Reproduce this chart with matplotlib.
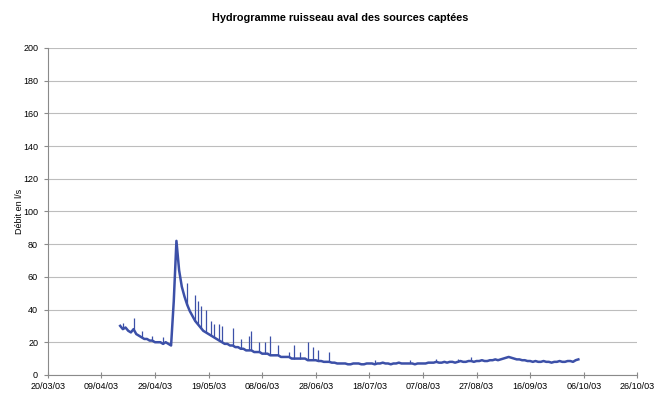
import numpy as np
import pandas as pd
import matplotlib
matplotlib.use('Agg')
import matplotlib.pyplot as plt
import matplotlib.dates as mdates

plt.rcParams['font.family'] = ['Liberation Sans', 'DejaVu Sans']

#daily flow (l/s), 16/04/03 -> 04/10/03
debut = '2003-04-16'
debit_avr = [30, 28, 29, 27, 26, 28, 25, 24, 23, 22, 22, 21, 21, 20, 20]
debit_mai = [20, 19, 20, 19, 18, 45, 82, 64, 54, 48, 43, 39, 36, 33, 31, 29,
             27, 26, 25, 24, 23, 22, 21, 20, 19, 19, 18, 18, 17, 17, 16]
debit_juin = [16, 15, 15, 15, 14, 14, 14, 13, 13, 13, 12, 12, 12, 12, 11,
              11, 11, 11, 10, 10, 10, 10, 10, 10, 9, 9, 9, 9, 8.5, 8.5]
debit_juil = [8, 8, 8, 7.5, 7.5, 7, 7, 7, 7, 6.5, 6.5, 7, 7, 7, 6.5, 6.5,
              7, 7, 7, 6.5, 7, 7, 7.5, 7, 7, 6.5, 7, 7, 7.5, 7, 7]
debit_aout = [7, 7, 7, 6.5, 7, 7, 7, 7, 7.5, 7.5, 7.5, 8, 7.5, 7.5, 8, 7.5,
              8, 8, 7.5, 8, 8.5, 8, 8, 8.5, 8.5, 8, 8.5, 8.5, 9, 8.5, 8.5]
debit_sept = [9, 9, 9.5, 9, 9.5, 10, 10.5, 11, 10.5, 10, 9.5, 9.5, 9, 9,
              8.5, 8.5, 8, 8.5, 8, 8, 8.5, 8, 8, 7.5, 8, 8, 8.5, 8, 8, 8.5]
debit_oct = [8.5, 8, 9, 9.5]

#short peaks seen on the trace
pic_dates = ['2003-04-17', '2003-04-21', '2003-04-24', '2003-04-28', '2003-05-02',
             '2003-05-11', '2003-05-14', '2003-05-15', '2003-05-16', '2003-05-18',
             '2003-05-20', '2003-05-21', '2003-05-23', '2003-05-24', '2003-05-28',
             '2003-05-31', '2003-06-03', '2003-06-04', '2003-06-07', '2003-06-09',
             '2003-06-11', '2003-06-14', '2003-06-18', '2003-06-20', '2003-06-22',
             '2003-06-25', '2003-06-27', '2003-06-29', '2003-07-03', '2003-07-20',
             '2003-08-02', '2003-08-12', '2003-08-20', '2003-08-25']
pic_valeurs = [32, 35, 27, 24, 23,
               56, 49, 45, 42, 40,
               33, 31, 31, 30, 29,
               22, 24, 27, 20, 20,
               24, 18, 14, 18, 14,
               20, 17, 15, 14, 9,
               9, 10, 10, 11]

x_debut, x_fin = '2003-03-20', '2003-10-26'

debit = debit_avr + debit_mai + debit_juin + debit_juil + debit_aout + debit_sept + debit_oct
jours = pd.date_range(debut, periods=len(debit), freq='D')
serie = pd.Series(debit, index=jours)
pics_t = pd.to_datetime(pic_dates)

fig = plt.figure(figsize=(6.55, 3.93), dpi=100)
ax = fig.add_axes([0.073, 0.046, 0.900, 0.832])

ax.plot(serie.index, serie.values, color='#3c50a8', lw=1.8)
#peaks drawn as thin needles from the daily level
ax.vlines(pics_t, serie.reindex(pics_t).values, pic_valeurs,
          color='#3c50a8', lw=0.9)

#axis
ax.set_xlim(pd.Timestamp(x_debut), pd.Timestamp(x_fin))
ax.set_ylim(0, 200)
ax.set_yticks(np.arange(0, 201, 20))
ax.set_xticks(pd.date_range(x_debut, x_fin, freq='20D'))
ax.xaxis.set_major_formatter(mdates.DateFormatter('%d/%m/%y'))

ax.grid(axis='y', color='#bdbdbd', lw=0.8)
ax.set_axisbelow(True)
for s in ['top', 'right']:
    ax.spines[s].set_visible(False)
for s in ['left', 'bottom']:
    ax.spines[s].set_color('#8a8a8a')
    ax.spines[s].set_linewidth(0.8)

ax.tick_params(axis='x', direction='inout', length=4, color='#8a8a8a',
               labelsize=6.5, pad=3)
ax.tick_params(axis='y', direction='out', length=3, color='#8a8a8a',
               labelsize=6.5, pad=4)

ax.set_ylabel('Débit en l/s', fontsize=6.5)
ax.yaxis.set_label_coords(-0.04, 0.5)

fig.text(0.52, 0.955, 'Hydrogramme ruisseau aval des sources captées',
         ha='center', va='center', fontsize=7.8, fontweight='bold')

fig.savefig('out.png', dpi=100)
